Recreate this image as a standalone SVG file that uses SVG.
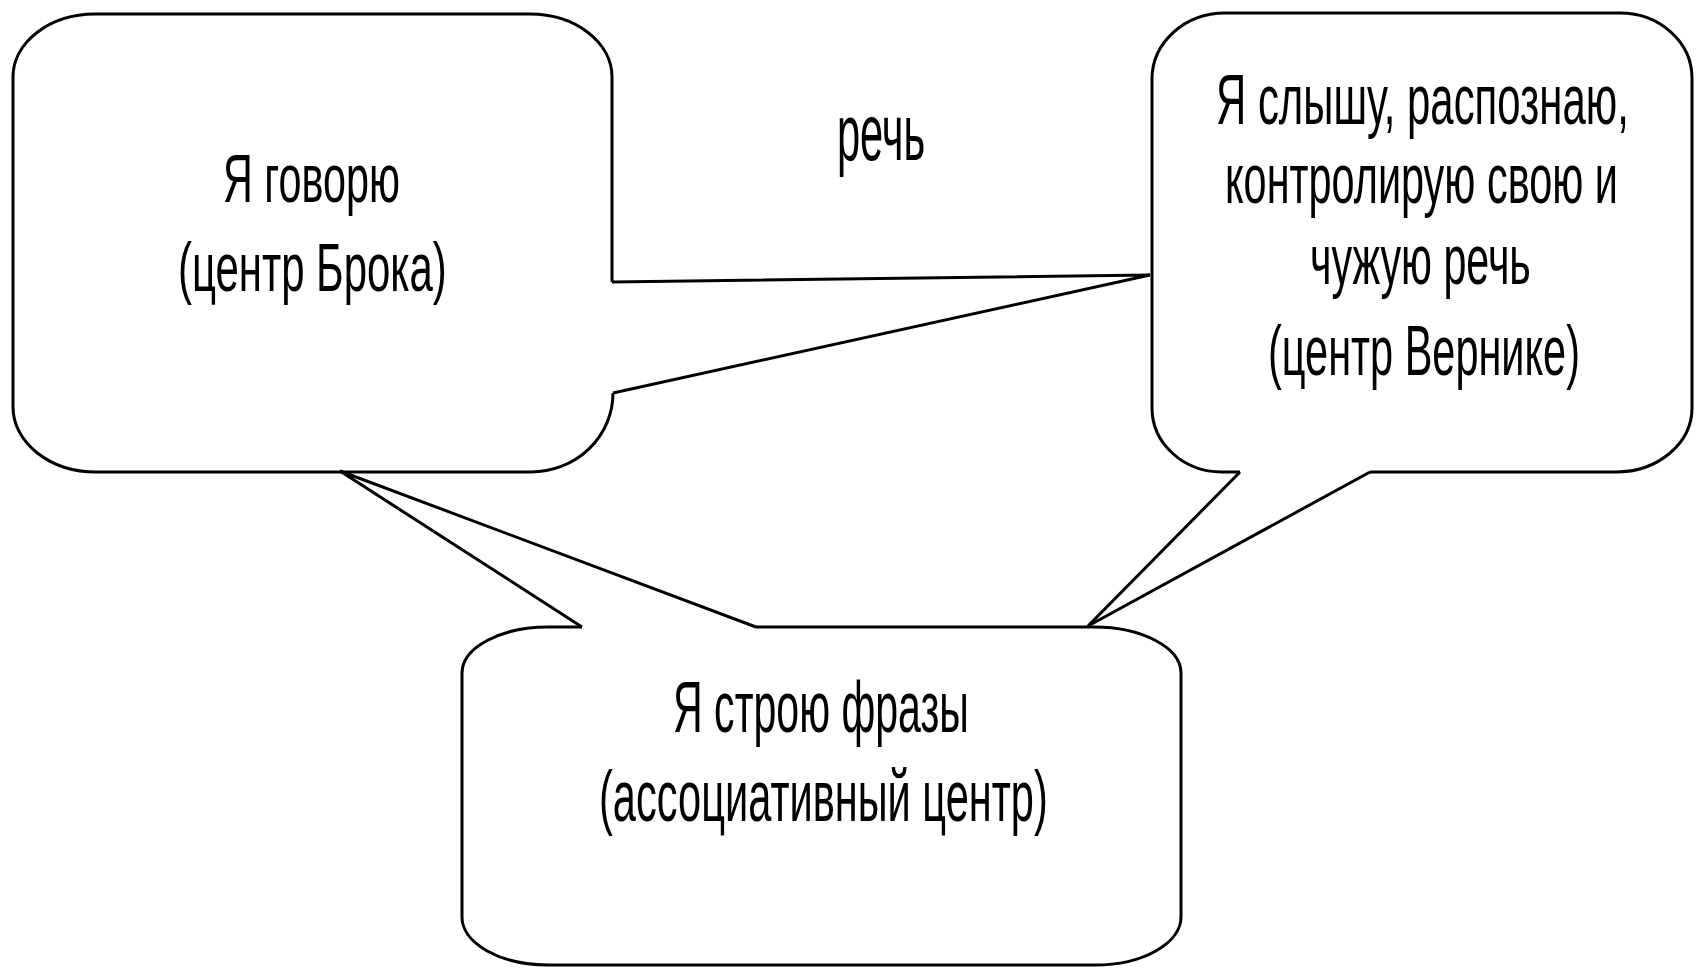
<svg xmlns="http://www.w3.org/2000/svg" width="1700" height="969" viewBox="0 0 1700 969">
  <style>
    .shape { fill: #ffffff; stroke: #000000; stroke-width: 3; stroke-linejoin: miter; }
    .conn { fill: none; stroke: #000000; stroke-width: 3; stroke-linejoin: miter; }
    .t { font-family: "Liberation Sans", Arial, "Noto Sans", sans-serif; fill: #000000; }
  </style>
  <rect x="0" y="0" width="1700" height="969" fill="#ffffff"/>

  <g id="node-broca">
    <path class="shape" d="M613,393 A82,79 0 0 1 531,472 H96 A83,65 0 0 1 13,407 V77 A82,63 0 0 1 95,14 H530 A82,63 0 0 1 612,77 V282"/>
    <text class="t" transform="matrix(0.6 0 0 1 223 0)" x="0" y="202" font-size="68" textLength="295" lengthAdjust="spacingAndGlyphs">Я говорю</text>
    <text class="t" transform="matrix(0.6 0 0 1 178 0)" x="0" y="291" font-size="68" textLength="448" lengthAdjust="spacingAndGlyphs">(центр Брока)</text>
  </g>

  <g id="node-wernicke">
    <path class="shape" d="M1370,472 H1616 A76,64 0 0 0 1692,408 V78 A72,65 0 0 0 1620,13 H1225 A73,66 0 0 0 1152,79 V408 A70,64 0 0 0 1222,472 H1240"/>
    <text class="t" transform="matrix(0.6 0 0 1 1216 0)" x="0" y="124" font-size="70" textLength="688" lengthAdjust="spacingAndGlyphs">Я слышу, распознаю,</text>
    <text class="t" transform="matrix(0.6 0 0 1 1225 0)" x="0" y="203" font-size="70" textLength="655" lengthAdjust="spacingAndGlyphs">контролирую свою и</text>
    <text class="t" transform="matrix(0.6 0 0 1 1310 0)" x="0" y="284" font-size="70" textLength="368" lengthAdjust="spacingAndGlyphs">чужую речь</text>
    <text class="t" transform="matrix(0.6 0 0 1 1268 0)" x="0" y="375" font-size="70" textLength="520" lengthAdjust="spacingAndGlyphs">(центр Вернике)</text>
  </g>

  <g id="node-assoc">
    <path class="shape" d="M756,627 H1094 A87,46 0 0 1 1181,673 V917 A86,48 0 0 1 1095,965 H548 A86,48 0 0 1 462,917 V673 A86,46 0 0 1 548,627 H582"/>
    <text class="t" transform="matrix(0.6 0 0 1 673 0)" x="0" y="732" font-size="72" textLength="493" lengthAdjust="spacingAndGlyphs">Я строю фразы</text>
    <text class="t" transform="matrix(0.6 0 0 1 599 0)" x="0" y="821" font-size="72" textLength="748" lengthAdjust="spacingAndGlyphs">(ассоциативный центр)</text>
  </g>

  <g id="connectors">
    <polyline class="conn" points="612,282 1150,275 613,393"/>
    <polyline class="conn" points="1240,472 1088,626 1370,472"/>
    <polyline class="conn" points="582,627 340,471 756,627"/>
    <text class="t" transform="matrix(0.6 0 0 1 837 0)" x="0" y="160" font-size="80" textLength="147" lengthAdjust="spacingAndGlyphs">речь</text>
  </g>
</svg>
